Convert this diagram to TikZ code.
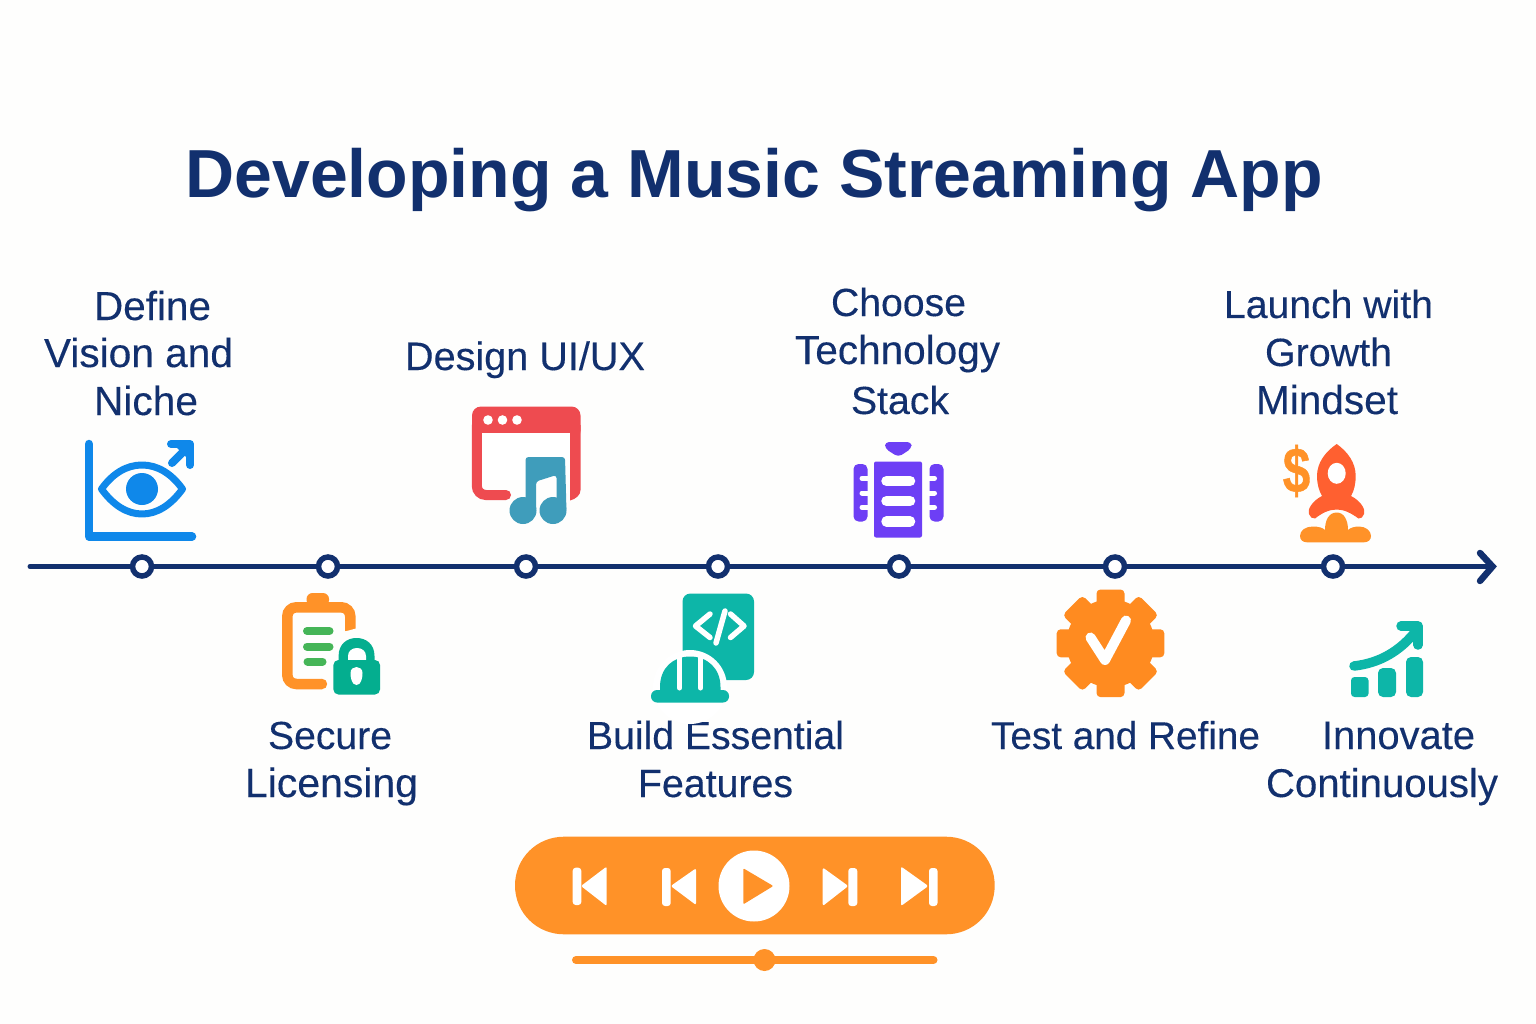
\documentclass[tikz,border=0pt]{standalone}
\usepackage{graphicx}
\usepackage{fontspec}
\setmainfont{Liberation Sans}
\newfontfamily\lblfam[FakeBold=0.25]{Liberation Sans}
\newfontfamily\dollarfam[FakeBold=0.8]{Liberation Sans Bold}
\newcommand{\fitline}[2]{\resizebox{#1pt}{!}{#2}}
\definecolor{navy}{HTML}{12306E}
\definecolor{bluei}{HTML}{0F88EA}
\definecolor{redi}{HTML}{EE4B50}
\definecolor{notei}{HTML}{3F9DBB}
\definecolor{orangei}{HTML}{FF9228}
\definecolor{greeni}{HTML}{45B557}
\definecolor{locki}{HTML}{04AE8F}
\definecolor{purplei}{HTML}{6D3FF5}
\definecolor{teali}{HTML}{0DB6A8}
\definecolor{geari}{HTML}{FF8B20}
\definecolor{rocketi}{HTML}{FF6030}
\definecolor{paper}{HTML}{FEFEFD}
\tikzset{
  lbl/.style={font=\lblfam\fontsize{39}{39}\selectfont, text=navy, anchor=base, inner sep=0pt},
  titlelbl/.style={font=\fontsize{68}{68}\selectfont\bfseries, text=navy, anchor=base, inner sep=0pt},
  stopdot/.style={circle, draw=navy, fill=white, line width=5.5pt, minimum size=19pt, inner sep=0pt},
  rail/.style={draw=navy, line width=5pt, line cap=round},
  white stroke/.style={draw=white, line cap=round, line join=round}
}
\begin{document}
\begin{tikzpicture}[x=1pt,y=-1pt]
\useasboundingbox (0,0) rectangle (1536,1024);
\fill[paper] (0,0) rectangle (1536,1024);

% title
\node[titlelbl] (title) at (754,198) {Developing a Music Streaming App};

% timeline
\coordinate (railstart) at (30,566.5);
\coordinate (railend) at (1492.5,566.5);
\coordinate (chevtop) at (1480,553);
\coordinate (chevbot) at (1480,581);
\draw[rail] (railstart) -- (railend);
\draw[navy, line width=6.5pt, line cap=round, line join=miter] (chevtop) -- (railend) -- (chevbot);
\foreach \n/\x in {s1/142,s2/328,s3/526,s4/718,s5/899,s6/1115,s7/1333}
  \node[stopdot] (\n) at (\x,566.5) {};

% labels
\node[lbl] (l1a) at (152.5,320) {\fitline{117}{Define}};
\node[lbl] (l1b) at (138.5,367) {\fitline{189}{Vision and}};
\node[lbl] (l1c) at (146,415) {\fitline{104}{Niche}};
\node[lbl] (l2a) at (330,749) {\fitline{124}{Secure}};
\node[lbl] (l2b) at (331.5,797) {\fitline{173}{Licensing}};
\node[lbl] (l3a) at (525,370) {\fitline{240}{Design UI/UX}};
\node[lbl] (l4a) at (715.5,749) {\fitline{257}{Build Essential}};
\node[lbl] (l4b) at (715.5,797) {\fitline{155}{Features}};
\node[lbl] (l5a) at (898.5,316) {\fitline{135}{Choose}};
\node[lbl] (l5b) at (897.5,364) {\fitline{205}{Technology}};
\node[lbl] (l5c) at (900,414) {\fitline{98}{Stack}};
\node[lbl] (l6a) at (1125.5,749) {\fitline{269}{Test and Refine}};
\node[lbl] (l7a) at (1328.5,318) {\fitline{209}{Launch with}};
\node[lbl] (l7b) at (1328.5,366) {\fitline{127}{Growth}};
\node[lbl] (l7c) at (1327,414) {\fitline{142}{Mindset}};
\node[lbl] (l8a) at (1398.5,749) {\fitline{153}{Innovate}};
\node[lbl] (l8b) at (1382,797) {\fitline{232}{Continuously}};

% eye icon
\draw[bluei, line width=8.5pt, line cap=round, line join=round] (89,444) -- (89,536.5) -- (192,536.5);
\draw[bluei, line width=7pt, line join=round] (101.5,489) .. controls (113,473) and (127,465) .. (142,465) .. controls (157,465) and (171,473) .. (182.5,489) .. controls (171,505) and (157,514) .. (142,514) .. controls (127,514) and (113,505) .. (101.5,489) -- cycle;
\fill[bluei] (142,489) circle[radius=16];
\draw[bluei, line width=8pt, line cap=round, line join=round] (172,463) -- (188,447);
\draw[bluei, line width=8pt, line cap=round, line join=round] (171,444) -- (190,444) -- (190,465);
\fill[bluei] (176,447) -- (190,444) -- (187,458) -- cycle;

% clipboard icon
\fill[orangei, rounded corners=6pt] (306.5,606) -- (306.5,593) -- (329,593) -- (329,606) -- cycle;
\draw[orangei, line width=10.5pt, rounded corners=9pt] (350.3,631) -- (350.3,607.3) -- (287.3,607.3) -- (287.3,684) -- (322,684);
\fill[orangei] (322,678.8) rectangle (323,689.2);
\fill[orangei] (322,684) circle[radius=5.2];
\fill[paper] (344.5,631.6) -- (356,628.5) -- (356,636) -- (344.5,636) -- cycle;
\draw[greeni, line width=8pt, line cap=round] (307,631) -- (329.5,631);
\draw[greeni, line width=8pt, line cap=round] (307,646.5) -- (329.5,646.5);
\draw[greeni, line width=8pt, line cap=round] (307.5,661.5) -- (322.5,661.5);
\fill[locki] (338.6,662) -- (338.6,656) .. controls (338.6,644) and (347,638) .. (356.5,638) .. controls (366,638) and (374.5,644) .. (374.5,656) -- (374.5,662) -- cycle;
\fill[white] (348,662) -- (348,656) .. controls (348,651) and (352,648) .. (357,648) .. controls (362,648) and (366,651) .. (366,656) -- (366,662) -- cycle;
\fill[locki, rounded corners=5pt] (333.4,660) rectangle (380,694.5);
\fill[white] (350.5,673) .. controls (350.5,665) and (362.5,665) .. (362.5,673) .. controls (362.5,677) and (361.5,685) .. (356.5,685) .. controls (351.5,685) and (350.5,677) .. (350.5,673) -- cycle;

% music window icon
\fill[redi, rounded corners=9pt] (472,440) -- (472,406.5) -- (580.5,406.5) -- (580.5,440) -- cycle;
\draw[redi, line width=10pt, line cap=round, rounded corners=9pt] (506,495) -- (476.8,495) -- (476.8,425);
\fill[redi] (570,425) -- (580.5,425) -- (580.5,490) .. controls (580.5,495) and (576,499) .. (570,500.5) -- cycle;
\foreach \x in {488,502.5,517} \fill[white] (\x,420) circle[radius=4.8];
\fill[white] (481.8,433) rectangle (570,480);
\fill[notei, rounded corners=3pt] (525.5,500) -- (525.5,457) -- (565,457) -- (566.5,512) -- (556.5,512) -- (556.5,475) -- (536,481.5) -- (536,512) -- (525.5,512) -- cycle;
\fill[notei] (523,510.5) circle[radius=13.5];
\fill[notei] (553,510.5) circle[radius=13.5];

% dev icon
\fill[teali, rounded corners=8pt] (682.5,593.5) rectangle (754,680);
\fill[white] (690,687) circle[radius=37];
\fill[teali] (660,692) -- (660,687) .. controls (660,668) and (673,656.5) .. (690,656.5) .. controls (707,656.5) and (720.5,668) .. (720.5,687) -- (720.5,692) -- cycle;
\fill[teali, rounded corners=6pt] (651,690) rectangle (729,702.5);
\draw[white stroke, line width=5pt] (679.5,655) -- (679.5,688);
\draw[white stroke, line width=5pt] (700.5,655) -- (700.5,688);
\draw[white stroke, line width=5.5pt] (710,614) -- (695.5,626) -- (710,637.5);
\draw[white stroke, line width=5.5pt] (730.5,614) -- (744,626) -- (730.5,637.5);
\draw[white stroke, line width=5.5pt] (725,611) -- (716,643);

% stack icon
\fill[purplei, rounded corners=4pt] (885,442) -- (911.5,442) -- (911.5,448.5) -- (898.3,457) -- (885,448.5) -- cycle;
\fill[purplei, rounded corners=2pt] (874,461.5) rectangle (922,537.5);
\foreach \y in {481,501,521.5}
  \draw[white stroke, line width=10.5pt] (886.5,\y) -- (910,\y);
\fill[purplei, rounded corners=5pt] (853.5,464) rectangle (867.5,521.5);
\fill[purplei, rounded corners=5pt] (929.5,464) rectangle (943.5,521.5);
\foreach \y in {478.3,493,507.3} {
  \draw[white stroke, line width=5pt] (862,\y) -- (868,\y);
  \draw[white stroke, line width=5pt] (928.5,\y) -- (934.5,\y);
}

% gear icon
\fill[geari] (1110.5,643.3) circle[radius=44];
\foreach \a in {0,45,...,315}
  \fill[geari, rounded corners=4pt, rotate around={\a:(1110.5,643.3)}] (1096.5,589.5) rectangle (1124.5,620);
\draw[white stroke, line width=10pt] (1090.5,637.5) -- (1105,660) -- (1126,620.5);

% rocket icon
\node[font=\dollarfam\fontsize{56}{56}\selectfont, text=orangei, anchor=center, inner sep=0pt] (dollar) at (1296.5,471) {\scalebox{0.88}[1.14]{\$}};
\fill[rocketi] (1336.7,444) .. controls (1325,452) and (1317,463) .. (1317,476) .. controls (1317,484) and (1319,491) .. (1322,496) .. controls (1312,501) and (1307,510) .. (1309,514) .. controls (1310,517) and (1312,519) .. (1315,518.5) .. controls (1322,513) and (1329,509.5) .. (1336.7,509.5) .. controls (1344,509.5) and (1351,513) .. (1358.5,518.5) .. controls (1361,519) and (1363,517) .. (1364,514) .. controls (1366,510) and (1361,501) .. (1351,496) .. controls (1354,491) and (1355.7,484) .. (1355.7,476) .. controls (1355.7,463) and (1348,452) .. (1336.7,444) -- cycle;
\fill[white] (1336.7,473.3) ellipse[x radius=9, y radius=10.5];
\fill[orangei] (1300,536) .. controls (1300,530) and (1306,526.5) .. (1313,526.5) .. controls (1319,526.5) and (1323,528) .. (1325,530) .. controls (1325,520) and (1329,512.5) .. (1336.7,512.5) .. controls (1344,512.5) and (1348,520) .. (1348,530) .. controls (1350,528) and (1354,526.5) .. (1359,526.5) .. controls (1366,526.5) and (1371,531) .. (1371,536) .. controls (1371,540) and (1368,542.3) .. (1364,542.3) -- (1307,542.3) .. controls (1303,542.3) and (1300,540) .. (1300,536) -- cycle;

% growth icon
\fill[teali, rounded corners=3.5pt] (1351,677) rectangle (1368.5,697);
\fill[teali, rounded corners=5pt] (1378,668) rectangle (1396,697);
\fill[teali, rounded corners=5pt] (1406,657) rectangle (1423,697);
\draw[teali, line width=9.5pt, line cap=round] (1354,666) .. controls (1380,663) and (1400,651) .. (1416,631);
\draw[teali, line width=9.5pt, line cap=round, line join=round] (1401,626) -- (1418,626) -- (1418,645);

% player
\fill[orangei] (515,885.5) .. controls (515,858) and (537,836.7) .. (564,836.7) -- (946,836.7) .. controls (973,836.7) and (994.7,858) .. (994.7,885.5) .. controls (994.7,913) and (973,934.3) .. (946,934.3) -- (564,934.3) .. controls (537,934.3) and (515,913) .. (515,885.5) -- cycle;
\fill[white] (754,886) circle[radius=35.5];
\fill[orangei, rounded corners=1pt] (743.3,868.3) -- (773.3,886) -- (743.3,904.3) -- cycle;
\fill[white, rounded corners=3pt] (572.7,867.7) rectangle (581.3,905);
\fill[white, rounded corners=2pt] (606.7,866.5) -- (606.7,906) -- (581,886) -- cycle;
\fill[white, rounded corners=3pt] (662,868) rectangle (670.7,906);
\fill[white, rounded corners=2pt] (696,868.3) -- (696,905) -- (670.7,886) -- cycle;
\fill[white, rounded corners=2pt] (822.7,867.5) -- (822.7,906) -- (848.3,886) -- cycle;
\fill[white, rounded corners=3pt] (848.3,868) rectangle (857.3,906);
\fill[white, rounded corners=2pt] (901,866.5) -- (901,906) -- (928.3,886) -- cycle;
\fill[white, rounded corners=3pt] (929,868) rectangle (937.5,906);
\draw[orangei, line width=8pt, line cap=round] (576,960) -- (933.5,960);
\fill[orangei] (764.5,960) circle[radius=11];
\end{tikzpicture}
\end{document}
